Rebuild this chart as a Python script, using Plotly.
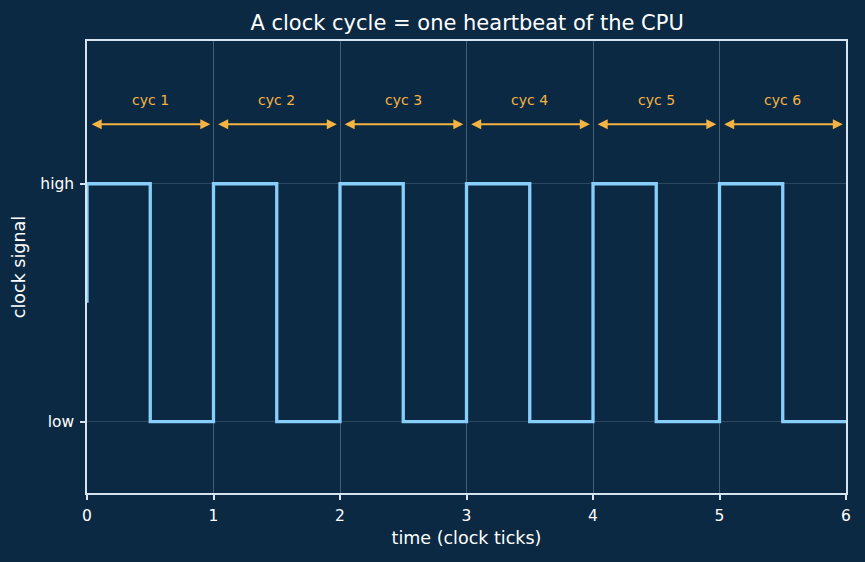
import plotly.graph_objects as go

# data
t = [0, 0, 0.5, 1, 1.5, 2, 2.5, 3, 3.5, 4, 4.5, 5, 5.5, 6]
level = [0.5, 1, 0, 1, 0, 1, 0, 1, 0, 1, 0, 1, 0, 0]
cycle_labels = ["cyc 1", "cyc 2", "cyc 3", "cyc 4", "cyc 5", "cyc 6"]
cycle_starts = [0, 1, 2, 3, 4, 5]
ytick_vals = [0, 1]
ytick_text = ["low", "high"]

BG = "#0b2942"
AX = "#d4e4f0"
ORANGE = "#f5b343"
LINE = "#87cefa"
FONT = "DejaVu Sans"

fig = go.Figure()
fig.add_trace(go.Scatter(x=t, y=level, mode="lines", line=dict(color=LINE, width=3.3, shape="hv"),
                         showlegend=False, hoverinfo="skip"))

for lab, s in zip(cycle_labels, cycle_starts):
    fig.add_annotation(x=s + 0.975, y=1.25, ax=s + 0.025, ay=1.25, xref="x", yref="y", axref="x", ayref="y",
                       text="", showarrow=True, arrowhead=2, startarrowhead=2, arrowside="end+start",
                       arrowsize=1, startarrowsize=1, arrowwidth=2, arrowcolor=ORANGE)
    fig.add_annotation(x=s + 0.5, y=1.35, xref="x", yref="y", text=lab, showarrow=False,
                       font=dict(color=ORANGE, size=14, family=FONT))

fig.update_layout(
    width=865, height=562,
    paper_bgcolor=BG, plot_bgcolor=BG,
    margin=dict(l=87, r=19, t=41, b=69),
    font=dict(family=FONT, color="#ffffff", size=15),
    title=dict(text="A clock cycle = one heartbeat of the CPU", x=0.54, xanchor="center", y=0.959, yanchor="middle",
               font=dict(size=21, color="#ffffff", family=FONT)),
)
fig.update_xaxes(range=[0, 6], tickvals=[0, 1, 2, 3, 4, 5, 6], showline=True, mirror=True, linecolor=AX, linewidth=1.5,
                 ticks="outside", ticklen=5, tickcolor=AX, tickwidth=1.5, ticklabelstandoff=3,
                 showgrid=True, gridcolor="rgba(200,220,235,0.3)", gridwidth=1, zeroline=False,
                 title=dict(text="time (clock ticks)", font=dict(size=17.5), standoff=7),
                 tickfont=dict(size=15.5, color="#ffffff"))
fig.update_yaxes(range=[-0.3, 1.6], tickvals=ytick_vals, ticktext=ytick_text, showline=True, mirror=True, linecolor=AX,
                 linewidth=1.5, ticks="outside", ticklen=5, tickcolor=AX, tickwidth=1.5, ticklabelstandoff=3,
                 showgrid=True, gridcolor="rgba(200,220,235,0.18)", gridwidth=1, zeroline=False,
                 title=dict(text="clock signal", font=dict(size=17.5), standoff=10),
                 tickfont=dict(size=15.5, color="#ffffff"))

fig.write_html("out.html")
